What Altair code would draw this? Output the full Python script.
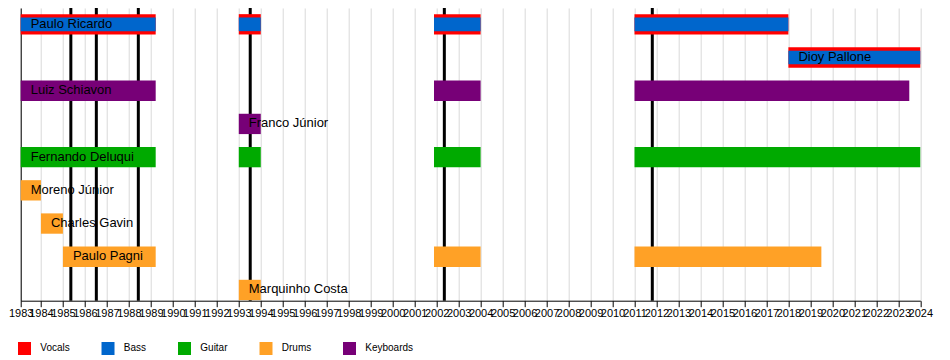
import altair as alt
import pandas as pd

# ---- data ----
members = ["Paulo Ricardo", "Dioy Pallone", "Luiz Schiavon", "Franco Júnior",
           "Fernando Deluqui", "Moreno Júnior", "Charles Gavin", "Paulo Pagni",
           "Marquinho Costa"]
main_role = ["Vocals", "Vocals", "Keyboards", "Keyboards", "Guitar",
             "Drums", "Drums", "Drums", "Drums"]
second_role = ["Bass", "Bass", "", "", "", "", "", "", ""]
stints = [
    [(1983.08, 1989.22), (1993.0, 1994.0), (2001.88, 2004.0), (2011.0, 2018.0)],
    [(2018.0, 2024.0)],
    [(1983.08, 1989.22), (2001.88, 2004.0), (2011.0, 2023.5)],
    [(1993.0, 1994.0)],
    [(1983.08, 1989.22), (1993.0, 1994.0), (2001.88, 2004.0), (2011.0, 2024.0)],
    [(1983.08, 1984.0)],
    [(1984.0, 1985.0)],
    [(1985.0, 1989.22), (2001.88, 2004.0), (2011.0, 2019.5)],
    [(1993.0, 1994.0)],
]
album_dates = [1985.36, 1986.52, 1988.43, 1993.52, 2002.35, 2011.81]
timeline_start = 1983.08
tick_years = list(range(1983, 2025))
roles = ["Vocals", "Bass", "Guitar", "Drums", "Keyboards"]
role_colors = ["#ff0000", "#0066cc", "#00aa00", "#ffa126", "#770077"]

# ---- tables ----
outer_rows, inner_rows, label_rows = [], [], []
for i, (m, r1, r2, s) in enumerate(zip(members, main_role, second_role, stints)):
    label_rows.append({"member": m, "row": i, "start": s[0][0]})
    for a, b in s:
        outer_rows.append({"member": m, "row": i, "start": a, "end": b, "role": r1})
        if r2:
            inner_rows.append({"member": m, "row": i, "start": a, "end": b, "role": r2})
outer_df = pd.DataFrame(outer_rows)
inner_df = pd.DataFrame(inner_rows)
label_df = pd.DataFrame(label_rows)
album_df = pd.DataFrame({"date": album_dates})

FONT = "Liberation Sans"
n = len(members)

xscale = alt.Scale(domain=[timeline_start, tick_years[-1]], nice=False, zero=False)
yscale = alt.Scale(domain=[-0.491, n - 1 + 0.323], nice=False, zero=False, reverse=True)
xaxis = alt.Axis(values=[timeline_start] + tick_years[1:],
                 labelExpr="'' + floor(datum.value)",
                 title=None, grid=True, gridColor="#d9d9d9", gridWidth=1,
                 domainColor="black", tickColor="black", tickSize=6,
                 labelFont=FONT, labelFontSize=11, labelColor="black",
                 labelPadding=1, labelOverlap=False, labelFlush=False,
                 labelBound=False)
yaxis = alt.Axis(labels=False, ticks=False, title=None, grid=False,
                 domain=True, domainColor="black")

color = alt.Color("role:N",
                  scale=alt.Scale(domain=roles, range=role_colors),
                  legend=alt.Legend(orient="none", legendX=-2.7, legendY=334,
                                    direction="horizontal", title=None,
                                    symbolType="square", symbolSize=169,
                                    symbolStrokeWidth=0, symbolOpacity=1,
                                    labelFont=FONT, labelFontSize=10,
                                    labelColor="black", labelOffset=9.3,
                                    columnPadding=31.5, padding=0))

albums = alt.Chart(album_df).mark_rule(color="black", strokeWidth=3).encode(
    x=alt.X("date:Q", scale=xscale, axis=xaxis)
)

outer = alt.Chart(outer_df).transform_calculate(
    y0="datum.row - 0.306", y1="datum.row + 0.306"
).mark_rect().encode(
    x=alt.X("start:Q", scale=xscale, axis=xaxis),
    x2="end:Q",
    y=alt.Y("y0:Q", scale=yscale, axis=yaxis),
    y2="y1:Q",
    color=color,
)

inner = alt.Chart(inner_df).transform_calculate(
    y0="datum.row - 0.206", y1="datum.row + 0.206"
).mark_rect().encode(
    x=alt.X("start:Q", scale=xscale, axis=xaxis),
    x2="end:Q",
    y=alt.Y("y0:Q", scale=yscale, axis=yaxis),
    y2="y1:Q",
    color=color,
)

labels = alt.Chart(label_df).mark_text(
    align="left", baseline="middle", dx=10, dy=-0.5,
    font=FONT, fontSize=13, color="black"
).encode(
    x=alt.X("start:Q", scale=xscale, axis=xaxis),
    y=alt.Y("row:Q", scale=yscale, axis=yaxis),
    text="member:N",
)

chart = alt.layer(albums, outer, inner, labels).properties(
    width=899.6, height=292.7,
    autosize=alt.AutoSizeParams(type="none"),
    padding={"left": 12.7, "top": 0, "right": 17, "bottom": 60},
).configure_view(stroke=None)

chart.save("out.html", embed_options={"renderer": "svg", "actions": False})
